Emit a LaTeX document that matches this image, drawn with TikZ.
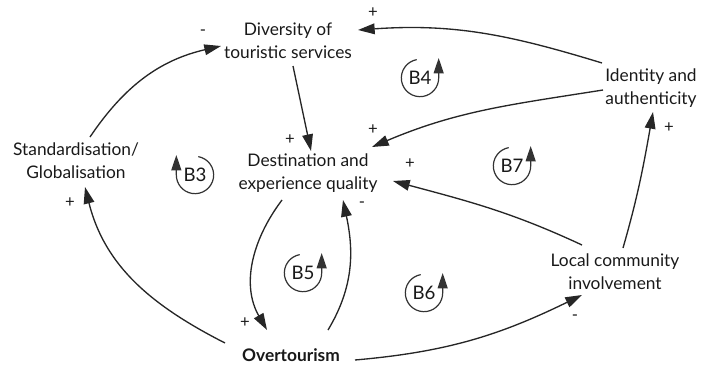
\documentclass[tikz,border=0pt]{standalone}
\usepackage{fontspec}
\setmainfont{Lato}
\usetikzlibrary{arrows.meta}
\begin{document}
\begin{tikzpicture}[x=0.75pt,y=0.75pt,
  var/.style={align=center, font=\fontsize{13}{17.5}\selectfont, text=black!90, inner sep=0pt},
  link/.style={draw=black!85, line width=1pt, -{Triangle[length=12.5pt,width=8pt]}},
  sign/.style={font=\fontsize{12.5}{14}\selectfont, text=black!90, inner sep=0pt},
  loopname/.style={font=\fontsize{14}{16}\selectfont, text=black!90, inner sep=0pt},
  loopline/.style={draw=black!80, line width=0.9pt, -{Triangle[length=11.5pt,width=7.5pt]}}
]
\useasboundingbox (0,0) rectangle (706,365);

% variables
\node[var] (div)   at (288,324) {Diversity of\\touristic services};
\node[var] (ident) at (651,277) {Identity and\\authenticity};
\node[var] (stand) at (76,204)  {Standardisation/\\Globalisation};
\node[var] (dest)  at (308,192) {Destination and\\experience quality};
\node[var] (local) at (615,93)  {Local community\\involvement};
\node[var, font=\fontsize{13}{17.5}\selectfont\bfseries] (over) at (291,10) {Overtourism};

% causal links
\draw[link] ([shift={(14,24)}]stand.center) to[out=56,in=193] ([shift={(-67,-5)}]div.center);
\draw[link] ([shift={(5,-25)}]div.center) -- ([shift={(3,22)}]dest.center);
\draw[link] ([shift={(-49,25)}]ident.center) to[out=163,in=4] ([shift={(70,11)}]div.center);
\draw[link] ([shift={(-48,-2)}]ident.center) to[out=189,in=23] ([shift={(64,26)}]dest.center);
\draw[link] ([shift={(-33,27)}]local.center) to[out=155,in=-15] ([shift={(85,-8)}]dest.center);
\draw[link] ([shift={(8,24)}]local.center) to[out=74,in=260] ([shift={(2,-24)}]ident.center);
\draw[link] ([shift={(-66,12)}]over.center) to[out=153,in=284] ([shift={(9,-26)}]stand.center);
\draw[link] ([shift={(-26,-27)}]dest.center) to[out=233,in=120] ([shift={(-24,25)}]over.center);
\draw[link] ([shift={(37,25)}]over.center) to[out=59,in=282] ([shift={(35,-27)}]dest.center);
\draw[link] ([shift={(64,-5)}]over.center) to[out=5,in=206] ([shift={(-33,-23)}]local.center);

% polarities
\node[sign] (s1)  at (203,332) {-};
\node[sign] (s2)  at (290,225) {+};
\node[sign] (s3)  at (373,352) {+};
\node[sign] (s4)  at (373,235) {+};
\node[sign] (s5)  at (410,201) {+};
\node[sign] (s6)  at (669,237) {+};
\node[sign] (s7)  at (70,162)  {+};
\node[sign] (s8)  at (245,42)  {+};
\node[sign] (s9)  at (362,160) {-};
\node[sign] (s10) at (575,47)  {-};

% balancing loops
\node[loopname] (b3) at (195,190) {B3};
\node[loopname] (b4) at (420,287) {B4};
\node[loopname] (b5) at (303,92)  {B5};
\node[loopname] (b6) at (424,72)  {B6};
\node[loopname] (b7) at (512,199) {B7};
\draw[loopline] ([shift={(80:14pt)}]b3.center) arc[start angle=80,end angle=-180,radius=14pt] -- ++(0,15pt);
\foreach \l in {b4,b5,b6,b7}
  \draw[loopline] ([shift={(100:14pt)}]\l.center) arc[start angle=100,end angle=360,radius=14pt] -- ++(0,15pt);
\end{tikzpicture}
\end{document}
